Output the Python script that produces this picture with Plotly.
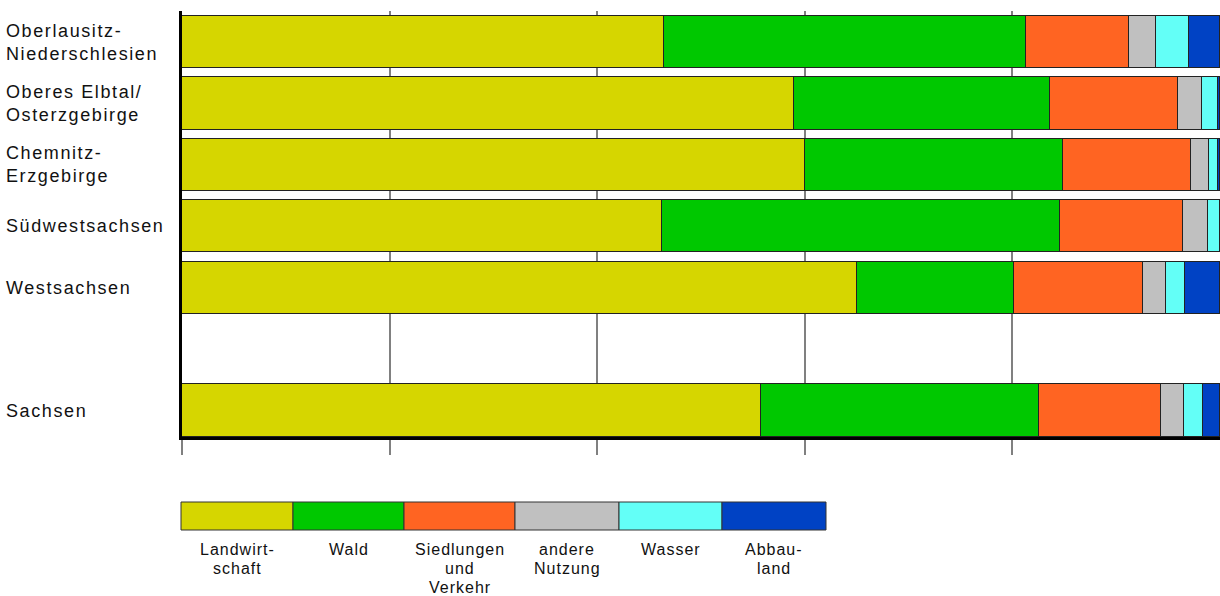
import plotly.graph_objects as go

# ---- data ----
regions = ["Oberlausitz-<br>Niederschlesien", "Oberes Elbtal/<br>Osterzgebirge",
           "Chemnitz-<br>Erzgebirge", "Südwestsachsen", "Westsachsen", "Sachsen"]
row_pos = [0, 1, 2, 3, 4, 6]
categories = ["Landwirtschaft", "Wald", "Siedlungen und Verkehr",
              "andere Nutzung", "Wasser", "Abbauland"]
legend_labels = ["Landwirt-<br>schaft", "Wald", "Siedlungen<br>und<br>Verkehr",
                 "andere<br>Nutzung", "Wasser", "Abbau-<br>land"]
landwirtschaft = [46.4, 59.0, 60.0, 46.2, 65.0, 55.8]
wald = [34.9, 24.6, 24.9, 38.4, 15.2, 26.8]
siedlung = [9.9, 12.4, 12.3, 11.8, 12.4, 11.7]
andere = [2.6, 2.3, 1.7, 2.4, 2.2, 2.2]
wasser = [3.2, 1.5, 0.9, 1.2, 1.8, 1.9]
abbau = [3.0, 0.2, 0.2, 0.0, 3.4, 1.6]
x_ticks = [0, 20, 40, 60, 80]

series = [landwirtschaft, wald, siedlung, andere, wasser, abbau]
colors = ["#D6D600", "#00C800", "#FF6422", "#C0C0C0", "#63FFF7", "#0042C4"]

W, H = 1220, 596
L, R, T, B = 182, 0, 11, 159
PW, PH = W - L - R, H - T - B
FONT = "Liberation Sans, Arial, sans-serif"


def px2paper_x(px):
    return (px - L) / PW


def px2paper_y(py):
    return (H - B - py) / PH


def spaced(text, ls):
    return "<br>".join(
        '<span style="letter-spacing:%spx">%s</span>' % (ls, part)
        for part in text.split("<br>")
    )


fig = go.Figure()
for name, vals, col in zip(categories, series, colors):
    fig.add_trace(go.Bar(
        y=row_pos, x=vals, name=name, orientation="h", width=0.85,
        marker=dict(color=col, line=dict(color="#222222", width=1)),
        showlegend=False,
    ))

# category labels
annotations = []
for lab, pos in zip(regions, row_pos):
    annotations.append(dict(
        x=px2paper_x(4), xref="paper", y=pos, yref="y", text=spaced(lab, 1.6),
        xanchor="left", yanchor="middle", align="left", showarrow=False,
        font=dict(family=FONT, size=18, color="#111111"),
    ))

# legend drawn as a strip of boxes with labels below
legend_edges_px = [181, 293, 404, 515, 619, 722, 826]
shapes = []
for i, (lab, col) in enumerate(zip(legend_labels, colors)):
    x0, x1 = legend_edges_px[i], legend_edges_px[i + 1]
    shapes.append(dict(
        type="rect", xref="paper", yref="paper",
        x0=px2paper_x(x0), x1=px2paper_x(x1),
        y0=px2paper_y(530), y1=px2paper_y(502),
        fillcolor=col, line=dict(color="#333333", width=1),
    ))
    for j, line in enumerate(lab.split("<br>")):
        annotations.append(dict(
            x=px2paper_x((x0 + x1) / 2), xref="paper",
            y=px2paper_y(549 + 19 * j), yref="paper",
            text=spaced(line, 1), xanchor="center", yanchor="middle",
            align="center", showarrow=False,
            font=dict(family=FONT, size=16, color="#111111"),
        ))

fig.update_layout(
    barmode="stack",
    width=W, height=H,
    margin=dict(l=L, r=R, t=T, b=B),
    paper_bgcolor="white", plot_bgcolor="white",
    bargap=0,
    xaxis=dict(
        range=[0, 100], tickvals=x_ticks, showticklabels=False,
        showgrid=True, gridcolor="#808080", gridwidth=1.5,
        ticks="outside", ticklen=15, tickcolor="#808080", tickwidth=1.5,
        showline=True, linecolor="black", linewidth=3,
        zeroline=False, fixedrange=True,
    ),
    yaxis=dict(
        range=[6.43, -0.505], showticklabels=False, showgrid=False,
        zeroline=False, showline=True, linecolor="black", linewidth=3,
        ticks="", fixedrange=True,
    ),
    annotations=annotations,
    shapes=shapes,
)

fig.write_html(
    "out.html",
    config={"displayModeBar": False},
    post_script="document.body.style.margin='0px';document.body.style.overflow='hidden';",
)
